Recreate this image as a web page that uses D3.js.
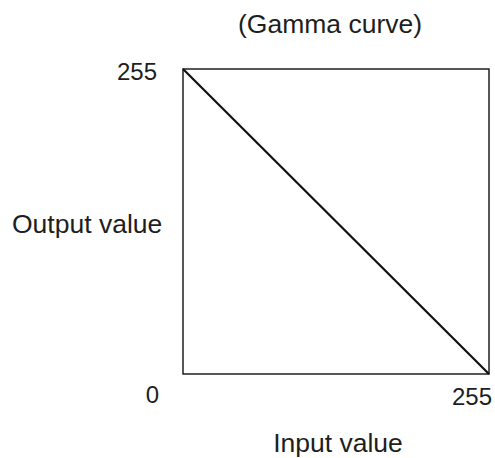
<!DOCTYPE html>
<html>
<head>
<meta charset="utf-8">
<script src="https://cdn.jsdelivr.net/npm/d3@7"></script>
<style>
  html, body { margin: 0; padding: 0; background: #fff; }
  svg { display: block; }
  text { font-family: "Liberation Sans", Arial, Helvetica, sans-serif; fill: #1e1e1e; }
</style>
</head>
<body>
<svg id="chart" width="495" height="458"></svg>
<script>
// Value range of the tone mapping (8-bit)
const inputDomain = [0, 255];
const outputDomain = [0, 255];
// Curve control points: input value -> output value (inverted response)
const curveInput = [0, 255];
const curveOutput = [255, 0];
// Corner labels
const inputTickLabels = ["255"];
const outputTickLabels = ["0", "255"];
const titleText = "(Gamma curve)";
const xTitle = "Input value";
const yTitle = "Output value";

const svg = d3.select("#chart");
const plot = { left: 183, top: 69, right: 489, bottom: 374 };

const x = d3.scaleLinear().domain(inputDomain).range([plot.left, plot.right]);
const y = d3.scaleLinear().domain(outputDomain).range([plot.bottom, plot.top]);

// Frame
svg.append("rect")
  .attr("x", x(inputDomain[0]))
  .attr("y", y(outputDomain[1]))
  .attr("width", x(inputDomain[1]) - x(inputDomain[0]))
  .attr("height", y(outputDomain[0]) - y(outputDomain[1]))
  .attr("fill", "none")
  .attr("stroke", "#111")
  .attr("stroke-width", 1.4);

// Curve
const points = curveInput.map((v, i) => [v, curveOutput[i]]);
svg.append("path")
  .datum(points)
  .attr("d", d3.line().x(d => x(d[0])).y(d => y(d[1])))
  .attr("fill", "none")
  .attr("stroke", "#111")
  .attr("stroke-width", 2.2);

const tickFs = 24;
const titleFs = 26.5;

// Output-axis labels at the left side
svg.selectAll("text.ytick")
  .data(outputTickLabels)
  .join("text")
  .attr("class", "ytick")
  .attr("text-anchor", "end")
  .attr("font-size", tickFs)
  .attr("x", d => (+d === outputDomain[0] ? x(0) - 24 : x(0) - 26))
  .attr("y", d => (+d === outputDomain[0] ? y(+d) + 29 : y(+d) + 11))
  .text(d => d);

// Input-axis label at the right end
svg.selectAll("text.xtick")
  .data(inputTickLabels)
  .join("text")
  .attr("class", "xtick")
  .attr("text-anchor", "end")
  .attr("font-size", tickFs)
  .attr("x", d => x(+d) + 3)
  .attr("y", y(0) + 31)
  .text(d => d);

// Titles
svg.append("text")
  .attr("text-anchor", "middle")
  .attr("font-size", titleFs)
  .attr("x", 330)
  .attr("y", 33)
  .text(titleText);

svg.append("text")
  .attr("text-anchor", "middle")
  .attr("font-size", titleFs)
  .attr("x", 338)
  .attr("y", 452)
  .text(xTitle);

svg.append("text")
  .attr("text-anchor", "start")
  .attr("font-size", titleFs)
  .attr("x", 12)
  .attr("y", 233)
  .text(yTitle);
</script>
</body>
</html>
